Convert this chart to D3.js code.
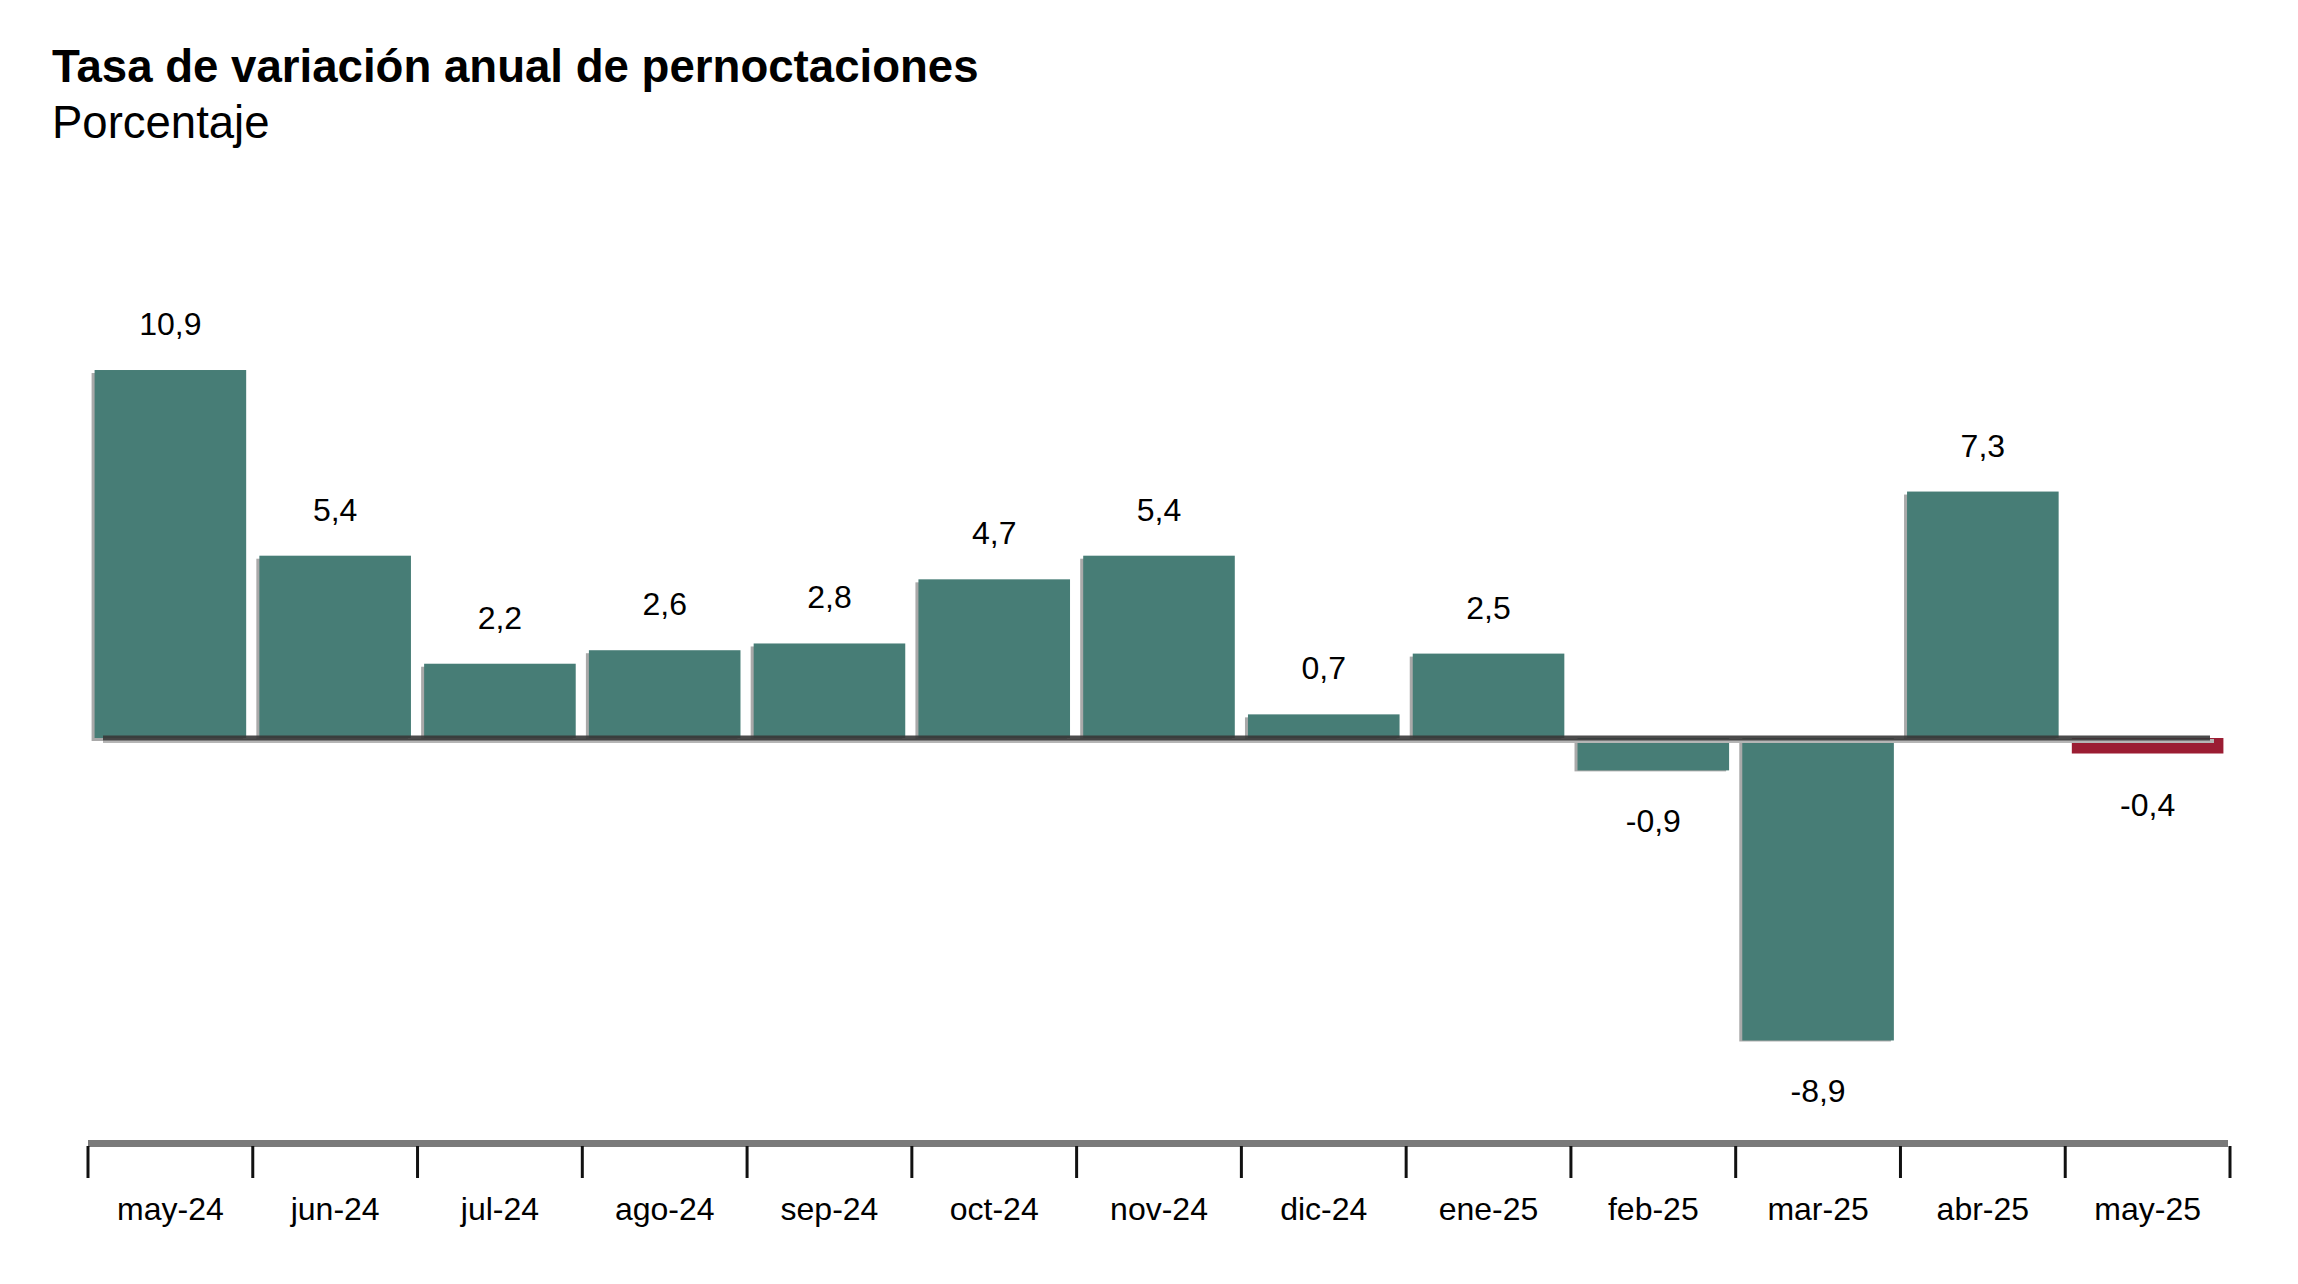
<!DOCTYPE html>
<html>
<head>
<meta charset="utf-8">
<script src="https://cdn.jsdelivr.net/npm/d3@7"></script>
<style>
  body { margin: 0; background: #fff; }
  text { font-family: "Liberation Sans", Arial, sans-serif; fill: #000; }
</style>
</head>
<body>
<svg></svg>
<script>
// Chart data
let categories = ['may-24', 'jun-24', 'jul-24', 'ago-24', 'sep-24', 'oct-24', 'nov-24',
                  'dic-24', 'ene-25', 'feb-25', 'mar-25', 'abr-25', 'may-25'];
let values = [10.9, 5.4, 2.2, 2.6, 2.8, 4.7, 5.4, 0.7, 2.5, -0.9, -8.9, 7.3, -0.4];
let labels = ['10,9', '5,4', '2,2', '2,6', '2,8', '4,7', '5,4', '0,7', '2,5', '-0,9', '-8,9', '7,3', '-0,4'];

// SVG dimensions
let width = 2298, height = 1284;
let left = 88, right = 2230;
let zeroY = 738, unit = 33.76;

let svg = d3.select('svg')
    .attr('width', width)
    .attr('height', height);

// Scales
let xScale = d3.scaleBand()
    .domain(categories)
    .range([left, right])
    .paddingInner(0.08)
    .paddingOuter(0.04);

let yScale = d3.scaleLinear()
    .domain([-10, 12])
    .range([zeroY + 10 * unit, zeroY - 12 * unit]);

// Title
svg.append('text')
    .attr('x', 52)
    .attr('y', 82)
    .style('font-size', '45.6px')
    .style('font-weight', 'bold')
    .text('Tasa de variación anual de pernoctaciones');

svg.append('text')
    .attr('x', 52)
    .attr('y', 138)
    .style('font-size', '45.5px')
    .text('Porcentaje');

// Bar shadows
svg.selectAll('.shadow')
    .data(values)
    .enter()
    .append('rect')
    .attr('class', 'shadow')
    .attr('x', (d, i) => xScale(categories[i]) - 3)
    .attr('y', (d) => Math.min(yScale(d), yScale(0)) + 3)
    .attr('width', xScale.bandwidth())
    .attr('height', (d) => Math.abs(yScale(d) - yScale(0)))
    .attr('fill', (d, i) => i == values.length - 1 ? 'none' : '#a9a9a9');

// Bars
svg.selectAll('.bar')
    .data(values)
    .enter()
    .append('rect')
    .attr('class', 'bar')
    .attr('x', (d, i) => xScale(categories[i]))
    .attr('y', (d) => Math.min(yScale(d), yScale(0)))
    .attr('width', xScale.bandwidth())
    .attr('height', (d) => Math.abs(yScale(d) - yScale(0)) + (d < 0 ? 2 : 0))
    .attr('fill', (d, i) => i == values.length - 1 ? '#9b1d33' : '#477d76');

// Zero line with shadow
svg.append('line')
    .attr('x1', 103).attr('x2', 2214)
    .attr('y1', yScale(0) + 3).attr('y2', yScale(0) + 3)
    .attr('stroke', '#b5b5b5')
    .attr('stroke-width', 4);

svg.append('line')
    .attr('x1', 103).attr('x2', 2210)
    .attr('y1', yScale(0)).attr('y2', yScale(0))
    .attr('stroke', 'rgba(55,55,55,0.9)')
    .attr('stroke-width', 5);

// Value labels
svg.selectAll('.value')
    .data(values)
    .enter()
    .append('text')
    .attr('class', 'value')
    .attr('x', (d, i) => xScale(categories[i]) + xScale.bandwidth() / 2)
    .attr('y', (d) => d >= 0 ? yScale(d) - 35 : yScale(d) + 64)
    .attr('text-anchor', 'middle')
    .style('font-size', '32px')
    .text((d, i) => labels[i]);

// Bottom axis line
svg.append('line')
    .attr('x1', left).attr('x2', right - 2)
    .attr('y1', 1143.5).attr('y2', 1143.5)
    .attr('stroke', '#7a7a7a')
    .attr('stroke-width', 7);

// Ticks at category boundaries
let tickScale = d3.scaleLinear().domain([0, categories.length]).range([left, right]);
svg.selectAll('.tick-mark')
    .data(d3.range(categories.length + 1))
    .enter()
    .append('line')
    .attr('class', 'tick-mark')
    .attr('x1', (d) => tickScale(d)).attr('x2', (d) => tickScale(d))
    .attr('y1', 1146).attr('y2', 1178)
    .attr('stroke', '#111')
    .attr('stroke-width', 3);

// Category labels
let xAxis = d3.axisBottom(xScale).tickSize(0);
let axisG = svg.append('g')
    .attr('transform', 'translate(0, 1220)')
    .call(xAxis);
axisG.select('.domain').remove();
axisG.selectAll('text')
    .attr('y', 0)
    .attr('dy', 0)
    .style('font-size', '32px')
    .style('font-family', '"Liberation Sans", Arial, sans-serif')
    .attr('fill', '#000');
</script>
</body>
</html>
